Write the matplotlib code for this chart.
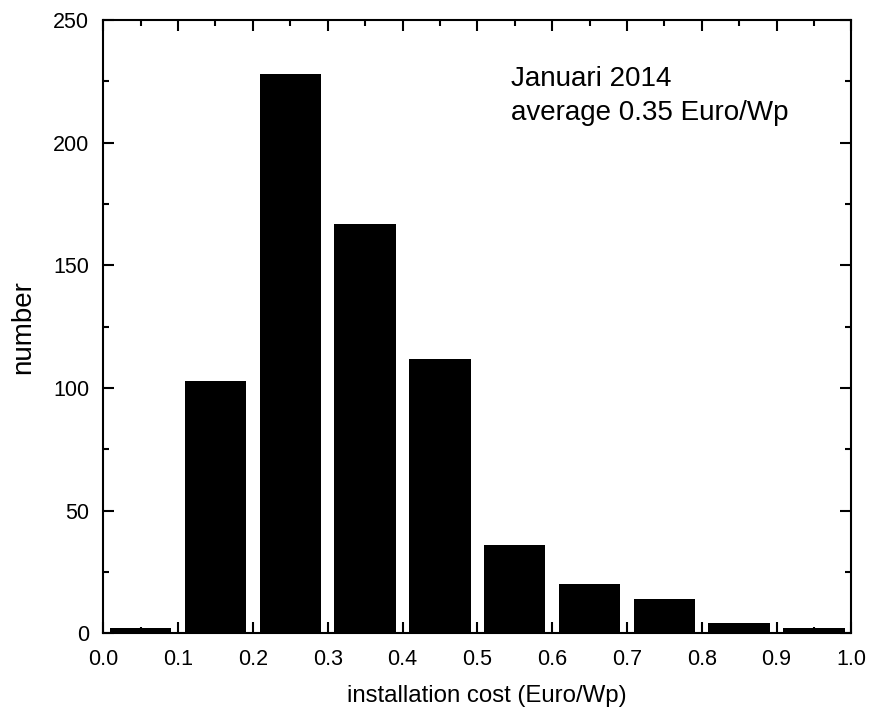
import numpy as np
import matplotlib.pyplot as plt
from matplotlib.ticker import MultipleLocator

plt.rcParams['font.family'] = ['Liberation Sans', 'DejaVu Sans']

# histogram of installation cost, bin centres and counts
bin_centres = np.array([0.05, 0.15, 0.25, 0.35, 0.45, 0.55, 0.65, 0.75, 0.85, 0.95])
counts = np.array([2, 103, 228, 167, 112, 36, 20, 14, 4, 2])

fig = plt.figure(figsize=(8.75, 7.18), dpi=100)
ax = fig.add_axes([0.118, 0.118, 0.855, 0.854])

ax.bar(bin_centres, counts, width=0.082, color='black')

ax.set_xlim(0, 1.0)
ax.set_ylim(0, 250)
ax.xaxis.set_major_locator(MultipleLocator(0.1))
ax.xaxis.set_minor_locator(MultipleLocator(0.05))
ax.yaxis.set_major_locator(MultipleLocator(50))
ax.yaxis.set_minor_locator(MultipleLocator(25))
ax.xaxis.set_major_formatter(plt.FuncFormatter(lambda v, p: f'{v:.1f}'))

ax.tick_params(which='both', direction='in', top=True, right=True, width=1.5, labelsize=15.5)
ax.tick_params(which='major', length=8)
ax.tick_params(which='minor', length=4.5)
ax.tick_params(axis='x', which='major', pad=11)
ax.tick_params(axis='y', which='major', pad=10)
for s in ax.spines.values():
    s.set_linewidth(1.5)

ax.set_xlabel('installation cost (Euro/Wp)', fontsize=17.3, labelpad=9)
ax.xaxis.set_label_coords(0.513, -0.085)
ax.set_ylabel('number', fontsize=20, labelpad=12)

ax.text(0.5455, 0.925, 'Januari 2014\naverage 0.35 Euro/Wp', transform=ax.transAxes,
        fontsize=20, va='top', ha='left', linespacing=1.38)

fig.savefig('out.png', dpi=100)
